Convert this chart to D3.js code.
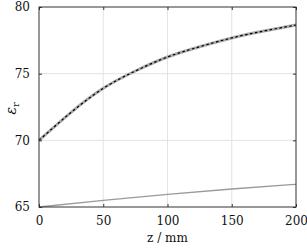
<!DOCTYPE html>
<html>
<head>
<meta charset="utf-8">
<script src="https://cdn.jsdelivr.net/npm/d3@7"></script>
<style>
  body { margin: 0; background: #fff; }
</style>
</head>
<body>
<svg></svg>
<script>
var width = 307, height = 248,
    margin = {top: 7, right: 11, bottom: 41, left: 39},
    serif = "'DejaVu Serif', serif",
    svg = d3.select("svg").attr("width", width).attr("height", height);

// data
var zPos = [0, 25, 50, 75, 100, 125, 150, 175, 200];
var epsMeasured = [70, 72.1, 73.9, 75.2, 76.25, 77.02, 77.68, 78.2, 78.65];
var epsModel = [70, 72.1, 73.9, 75.2, 76.25, 77.02, 77.68, 78.2, 78.65];
var zLow = [0, 50, 100, 150, 200];
var epsLow = [65, 65.5, 65.95, 66.35, 66.7];
var xTicks = [0, 50, 100, 150, 200];
var yTicks = [65, 70, 75, 80];

var x = d3.scaleLinear().domain([0, 200]).range([margin.left, width - margin.right]),
    y = d3.scaleLinear().domain([65, 80]).range([height - margin.bottom, margin.top]);

// grid
svg.append("g").selectAll("line").data(xTicks.slice(1, -1)).enter().append("line")
    .attr("x1", function(d) { return x(d); }).attr("x2", function(d) { return x(d); })
    .attr("y1", y(65)).attr("y2", y(80))
    .style("stroke", "#e3e3e3").style("stroke-width", 1);
svg.append("g").selectAll("line").data(yTicks.slice(1, -1)).enter().append("line")
    .attr("y1", function(d) { return y(d); }).attr("y2", function(d) { return y(d); })
    .attr("x1", x(0)).attr("x2", x(200))
    .style("stroke", "#e3e3e3").style("stroke-width", 1);

var line = d3.line().curve(d3.curveNatural)
    .x(function(d) { return x(d[0]); })
    .y(function(d) { return y(d[1]); });

svg.append("path")
    .datum(d3.zip(zLow, epsLow))
    .attr("d", line)
    .style("fill", "none").style("stroke", "#9a9a9a").style("stroke-width", 1.3);

svg.append("path")
    .datum(d3.zip(zPos, epsMeasured))
    .attr("d", line)
    .style("fill", "none").style("stroke", "#ababab").style("stroke-width", 3);

svg.append("path")
    .datum(d3.zip(zPos, epsModel))
    .attr("d", line)
    .style("fill", "none").style("stroke", "#000").style("stroke-width", 1.2)
    .style("stroke-dasharray", "2.5,2.5");

// axes with inward ticks, mirrored
var axisColor = "#333";
function styleAxis(g) {
    g.attr("font-family", serif).attr("font-size", 12);
    g.select(".domain").remove();
    g.selectAll(".tick line").style("stroke", axisColor);
    g.selectAll(".tick text").attr("fill", "#111");
}

svg.append("g").attr("transform", "translate(0," + y(65) + ")")
    .call(d3.axisBottom(x).tickValues(xTicks).tickSizeInner(-3).tickSizeOuter(0).tickPadding(9))
    .call(styleAxis);
svg.append("g").attr("transform", "translate(0," + y(80) + ")")
    .call(d3.axisTop(x).tickValues(xTicks).tickSizeInner(-3).tickSizeOuter(0).tickFormat(""))
    .call(styleAxis);
svg.append("g").attr("transform", "translate(" + x(0) + ",0)")
    .call(d3.axisLeft(y).tickValues(yTicks).tickSizeInner(-3).tickSizeOuter(0).tickPadding(9))
    .call(styleAxis);
svg.append("g").attr("transform", "translate(" + x(200) + ",0)")
    .call(d3.axisRight(y).tickValues(yTicks).tickSizeInner(-3).tickSizeOuter(0).tickFormat(""))
    .call(styleAxis);

svg.append("rect")
    .attr("x", x(0)).attr("y", y(80))
    .attr("width", x(200) - x(0)).attr("height", y(65) - y(80))
    .style("fill", "none").style("stroke", axisColor).style("stroke-width", 1);

// labels
svg.append("text")
    .attr("x", (x(0) + x(200)) / 2).attr("y", 242)
    .attr("text-anchor", "middle").attr("font-family", serif).attr("font-size", 12)
    .attr("fill", "#111")
    .text("z / mm");

var yl = svg.append("text")
    .attr("transform", "translate(16," + y(72.4) + ") rotate(-90)")
    .attr("text-anchor", "middle").attr("font-family", serif).attr("font-size", 14)
    .attr("fill", "#111");
yl.append("tspan").attr("font-style", "italic").text("ε");
yl.append("tspan").attr("dy", 3).attr("font-size", 10).text("r");
</script>
</body>
</html>
